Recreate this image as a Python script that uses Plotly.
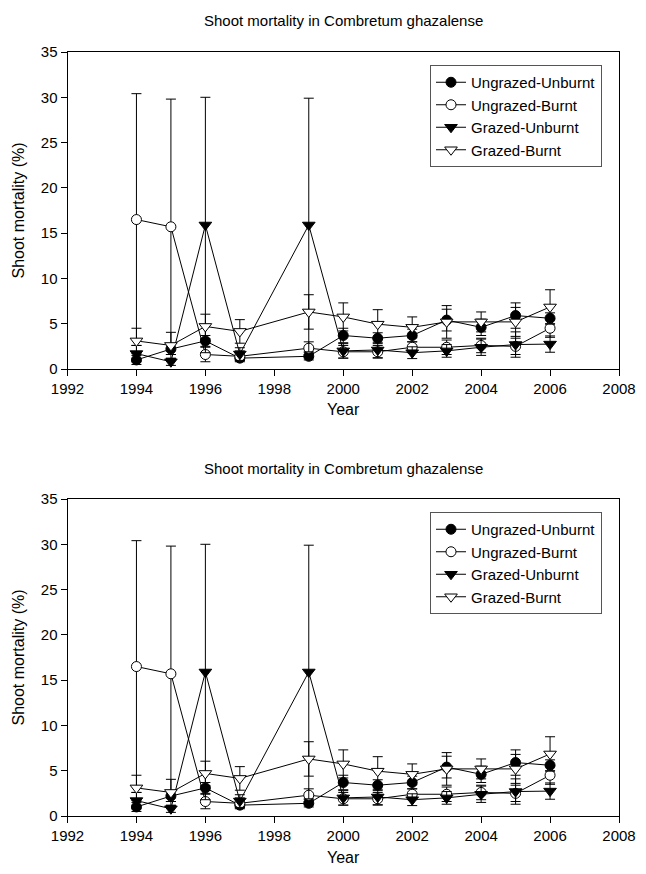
import plotly.graph_objects as go

years = [1994, 1995, 1996, 1997, 1999, 2000, 2001, 2002, 2003, 2004, 2005, 2006]

uu = [1.0, 2.2, 3.1, 1.2, 1.4, 3.7, 3.4, 3.7, 5.4, 4.6, 5.9, 5.6]
uu_err = [0.5, 0.6, 0.6, 0.3, 0.4, 0.8, 0.6, 0.7, 1.2, 0.9, 1.4, 0.6]

ub = [16.5, 15.7, 1.6, 1.4, 2.3, 1.9, 1.9, 2.4, 2.4, 2.6, 2.5, 4.5]
ub_err = [13.9, 14.1, 0.8, 0.6, 0.7, 0.7, 0.7, 0.6, 0.8, 0.8, 0.9, 1.0]

gu = [1.7, 0.8, 15.9, 1.65, 15.9, 2.0, 2.1, 1.8, 2.0, 2.4, 2.7, 2.75]
gu_err = [0.9, 0.4, 14.1, 0.7, 14.0, 0.8, 0.85, 0.65, 0.7, 0.9, 1.4, 0.9]

gb = [3.1, 2.6, 4.7, 4.15, 6.3, 5.75, 4.95, 4.6, 5.2, 5.2, 5.2, 6.85]
gb_err = [1.4, 1.45, 1.35, 1.3, 1.9, 1.55, 1.6, 1.15, 1.8, 1.1, 1.6, 1.9]

series = [
    ("Ungrazed-Unburnt", uu, uu_err, "circle", "black", 10),
    ("Ungrazed-Burnt", ub, ub_err, "circle", "white", 10),
    ("Grazed-Unburnt", gu, gu_err, "triangle-down", "black", 11),
    ("Grazed-Burnt", gb, gb_err, "triangle-down", "white", 11),
]

title_text = "Shoot mortality in Combretum ghazalense"
ytitle = "Shoot mortality (%)"
xtitle = "Year"
x_ticks = [1992, 1994, 1996, 1998, 2000, 2002, 2004, 2006, 2008]
y_ticks = [0, 5, 10, 15, 20, 25, 30, 35]

FONT = "Liberation Sans, Arial, Helvetica, sans-serif"
W, H = 646, 874

fig = go.Figure()

panels = [
    ("x", "y", "legend", 52, 369),
    ("x2", "y2", "legend2", 499, 816),
]
left_px, right_px = 67.5, 619

for xa, ya, lg, top, bot in panels:
    for name, vals, err, sym, fill, size in series:
        fig.add_trace(go.Scatter(
            x=years, y=vals, name=name, mode="lines+markers",
            xaxis=xa, yaxis=ya, legend=lg,
            line=dict(color="black", width=1),
            marker=dict(symbol=sym, size=size, color=fill,
                        line=dict(color="black", width=1)),
            error_y=dict(type="data", array=err, visible=True,
                         color="black", thickness=1, width=5),
        ))

axis_common = dict(
    showline=True, linecolor="black", linewidth=1, mirror=True,
    ticks="outside", ticklen=6, tickwidth=1, tickcolor="black",
    showgrid=False, zeroline=False, automargin=False,
    tickfont=dict(family=FONT, size=15, color="black"),
)

layout = dict(
    width=W, height=H,
    margin=dict(l=0, r=0, t=0, b=0, autoexpand=False),
    paper_bgcolor="white", plot_bgcolor="white",
    font=dict(family=FONT, color="black"),
    showlegend=True,
    annotations=[],
)

for i, (xa, ya, lg, top, bot) in enumerate(panels):
    sfx = "" if i == 0 else "2"
    ydom = [1 - bot / H, 1 - top / H]
    layout["xaxis" + sfx] = dict(axis_common, domain=[left_px / W, right_px / W],
                                 range=[1992, 2008], tickvals=x_ticks,
                                 anchor="y" + sfx)
    layout["yaxis" + sfx] = dict(axis_common, domain=ydom, range=[0, 35],
                                 tickvals=y_ticks, anchor="x" + sfx)
    layout[lg] = dict(
        x=430 / W, y=1 - (top + 13) / H, xanchor="left", yanchor="top",
        bgcolor="white", bordercolor="#555", borderwidth=1,
        font=dict(family=FONT, size=15, color="black"),
        tracegroupgap=0, itemwidth=30,
    )
    layout["annotations"] += [
        dict(text=title_text, x=343 / W, y=1 - (top - 31) / H, xref="paper", yref="paper",
             showarrow=False, font=dict(family=FONT, size=15, color="black"),
             xanchor="center", yanchor="middle"),
        dict(text=ytitle, x=18 / W, y=1 - ((top + bot) / 2) / H, xref="paper", yref="paper",
             showarrow=False, textangle=-90, font=dict(family=FONT, size=16, color="black"),
             xanchor="center", yanchor="middle"),
        dict(text=xtitle, x=343 / W, y=1 - (bot + 41) / H, xref="paper", yref="paper",
             showarrow=False, font=dict(family=FONT, size=16, color="black"),
             xanchor="center", yanchor="middle"),
    ]

fig.update_layout(**layout)
fig.write_html("out.html")
